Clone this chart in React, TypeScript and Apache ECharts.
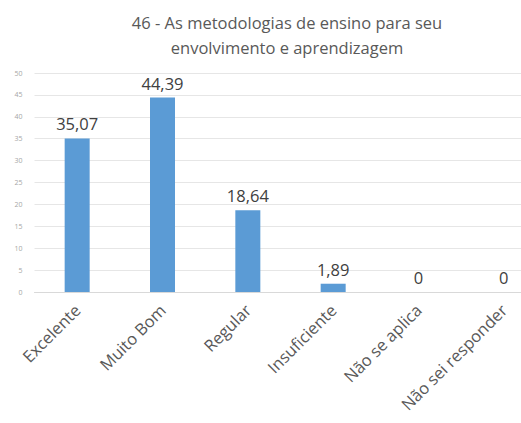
import React, { useEffect, useRef } from "react";
import * as echarts from "echarts";

const titleText = "46 - As metodologias de ensino para seu\nenvolvimento e aprendizagem";
const categories = ["Excelente", "Muito Bom", "Regular", "Insuficiente", "Não se aplica", "Não sei responder"];
const values = [35.07, 44.39, 18.64, 1.89, 0, 0];
const yTicks = { min: 0, max: 50, interval: 5 };

export default function App() {
  const ref = useRef<HTMLDivElement>(null);
  useEffect(() => {
    const chart = echarts.init(ref.current!, undefined, { renderer: "svg" });
    chart.setOption({
      animation: false,
      title: {
        text: titleText,
        left: 282,
        top: 5,
        textAlign: "center",
        textStyle: {
          fontFamily: "Open Sans",
          fontSize: 16.5,
          fontWeight: "normal",
          color: "#595959",
          lineHeight: 25,
        },
      },
      grid: { left: 34.5, width: 512, top: 73, height: 219, containLabel: false },
      xAxis: {
        type: "category",
        data: categories,
        axisLine: { lineStyle: { color: "#d9d9d9" } },
        axisTick: { show: false },
        axisLabel: {
          rotate: 45,
          interval: 0,
          margin: 15,
          fontFamily: "Open Sans",
          fontSize: 16.5,
          color: "#595959",
        },
      },
      yAxis: {
        type: "value",
        min: yTicks.min,
        max: yTicks.max,
        interval: yTicks.interval,
        axisLine: { show: false },
        axisTick: { show: false },
        splitLine: { lineStyle: { color: "#e6e6e6" } },
        axisLabel: {
          fontFamily: "Open Sans",
          fontSize: 7,
          color: "#a6a6a6",
          margin: 12,
        },
      },
      series: [
        {
          type: "bar",
          data: values,
          barWidth: 25,
          itemStyle: { color: "#5b9bd5" },
          label: {
            show: true,
            position: "top",
            distance: 6,
            fontFamily: "Open Sans",
            fontSize: 16.5,
            color: "#404040",
            formatter: (p: any) => (p.value === 0 ? "0" : p.value.toFixed(2).replace(".", ",")),
          },
        },
      ],
    });
    return () => chart.dispose();
  }, []);
  return (
    <div style={{ width: 521, height: 423, position: "absolute", left: 0, top: 0, overflow: "hidden", background: "#fff" }}>
      <div ref={ref} style={{ width: 547, height: 423 }} />
    </div>
  );
}
